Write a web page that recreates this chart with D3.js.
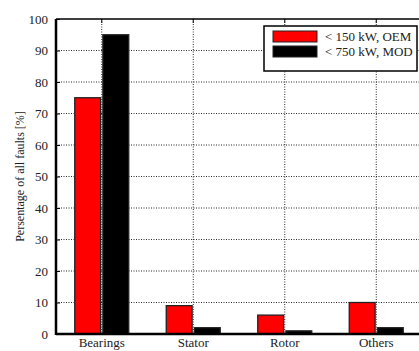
<!DOCTYPE html>
<html><head><meta charset="utf-8">
<script src="https://cdn.jsdelivr.net/npm/d3@7"></script>
<style>body{margin:0;background:#fff}svg{display:block}text{font-family:"Liberation Serif","Times New Roman",serif;fill:#222}</style>
</head><body><svg id="c" width="419" height="351"></svg>
<script>
const categories = ["Bearings", "Stator", "Rotor", "Others"];
const seriesNames = ["< 150 kW, OEM", "< 750 kW, MOD"];
const oemValues = [75, 9, 6, 10];
const modValues = [95, 2, 1, 2];
const yTicks = [0, 10, 20, 30, 40, 50, 60, 70, 80, 90, 100];
const colors = ["#ff0000", "#000000"];

const svg = d3.select("#c");
const L = 56, R = 422, T = 19, B = 334;
const x = d3.scaleBand().domain(categories).range([L, R]).padding(0);
const y = d3.scaleLinear().domain([0, 100]).range([B, T]);
const sub = d3.scaleBand().domain([0, 1]).range([-27, 27]).paddingInner(0.08).paddingOuter(0.0);

// grid
const g = svg.append("g");
g.selectAll(".gy").data(yTicks.filter(d => d > 0 && d < 100)).join("line")
  .attr("x1", L).attr("x2", R).attr("y1", d => y(d)).attr("y2", d => y(d))
  .attr("stroke", "#111").attr("stroke-width", 0.9).attr("stroke-dasharray", "1,1.5");
g.selectAll(".gx").data(categories).join("line")
  .attr("x1", d => x(d) + x.bandwidth() / 2).attr("x2", d => x(d) + x.bandwidth() / 2)
  .attr("y1", T).attr("y2", B)
  .attr("stroke", "#111").attr("stroke-width", 0.9).attr("stroke-dasharray", "1,1.5");

// bars
const data = categories.map((c, i) => ({ c, v: [oemValues[i], modValues[i]] }));
const grp = svg.append("g").selectAll("g").data(data).join("g")
  .attr("transform", d => `translate(${x(d.c) + x.bandwidth() / 2},0)`);
grp.selectAll("rect").data(d => d.v.map((v, k) => ({ v, k }))).join("rect")
  .attr("x", d => sub(d.k)).attr("width", sub.bandwidth())
  .attr("y", d => y(d.v)).attr("height", d => B - y(d.v))
  .attr("fill", d => colors[d.k]).attr("stroke", "#222").attr("stroke-width", 1.3);

// axes
const yAxis = d3.axisLeft(y).tickValues(yTicks).tickSize(-4).tickPadding(8);
const ya = svg.append("g").attr("transform", `translate(${L},0)`).call(yAxis);
ya.select(".domain").remove();
ya.selectAll("line").attr("stroke", "#000");
ya.selectAll("text").attr("font-size", 13).attr("fill", "#222").style("font-family", "'Liberation Serif', serif");

const xAxis = d3.axisBottom(x).tickSize(0).tickPadding(4);
const xa = svg.append("g").attr("transform", `translate(0,${B})`).call(xAxis);
xa.select(".domain").remove();
xa.selectAll("text").attr("font-size", 13).attr("fill", "#222").style("font-family", "'Liberation Serif', serif");

// top ticks
svg.append("g").selectAll("line").data(categories).join("line")
  .attr("x1", d => x(d) + x.bandwidth() / 2).attr("x2", d => x(d) + x.bandwidth() / 2)
  .attr("y1", T).attr("y2", T + 4).attr("stroke", "#000");

// frame
svg.append("line").attr("x1", L).attr("x2", R).attr("y1", T).attr("y2", T).attr("stroke", "#000").attr("stroke-width", 1.5);
svg.append("line").attr("x1", L).attr("x2", R).attr("y1", B).attr("y2", B).attr("stroke", "#000").attr("stroke-width", 2.5);
svg.append("line").attr("x1", L).attr("x2", L).attr("y1", T).attr("y2", B + 1).attr("stroke", "#000").attr("stroke-width", 2.5);

// y label
svg.append("text").attr("transform", `translate(24,${(T + B) / 2}) rotate(-90)`)
  .attr("text-anchor", "middle").attr("font-size", 12).text("Persentage of all faults [%]");

// legend
const lg = svg.append("g");
lg.append("rect").attr("x", 264).attr("y", 26).attr("width", 153).attr("height", 45)
  .attr("fill", "#fff").attr("stroke", "#000").attr("stroke-width", 1.5);
seriesNames.forEach((s, k) => {
  lg.append("rect").attr("x", 273).attr("y", 31 + k * 15).attr("width", 44).attr("height", 11)
    .attr("fill", colors[k]).attr("stroke", "#222").attr("stroke-width", 1);
  lg.append("text").attr("x", 325).attr("y", 41 + k * 15).attr("font-size", 13).text(s);
});
</script></body></html>
